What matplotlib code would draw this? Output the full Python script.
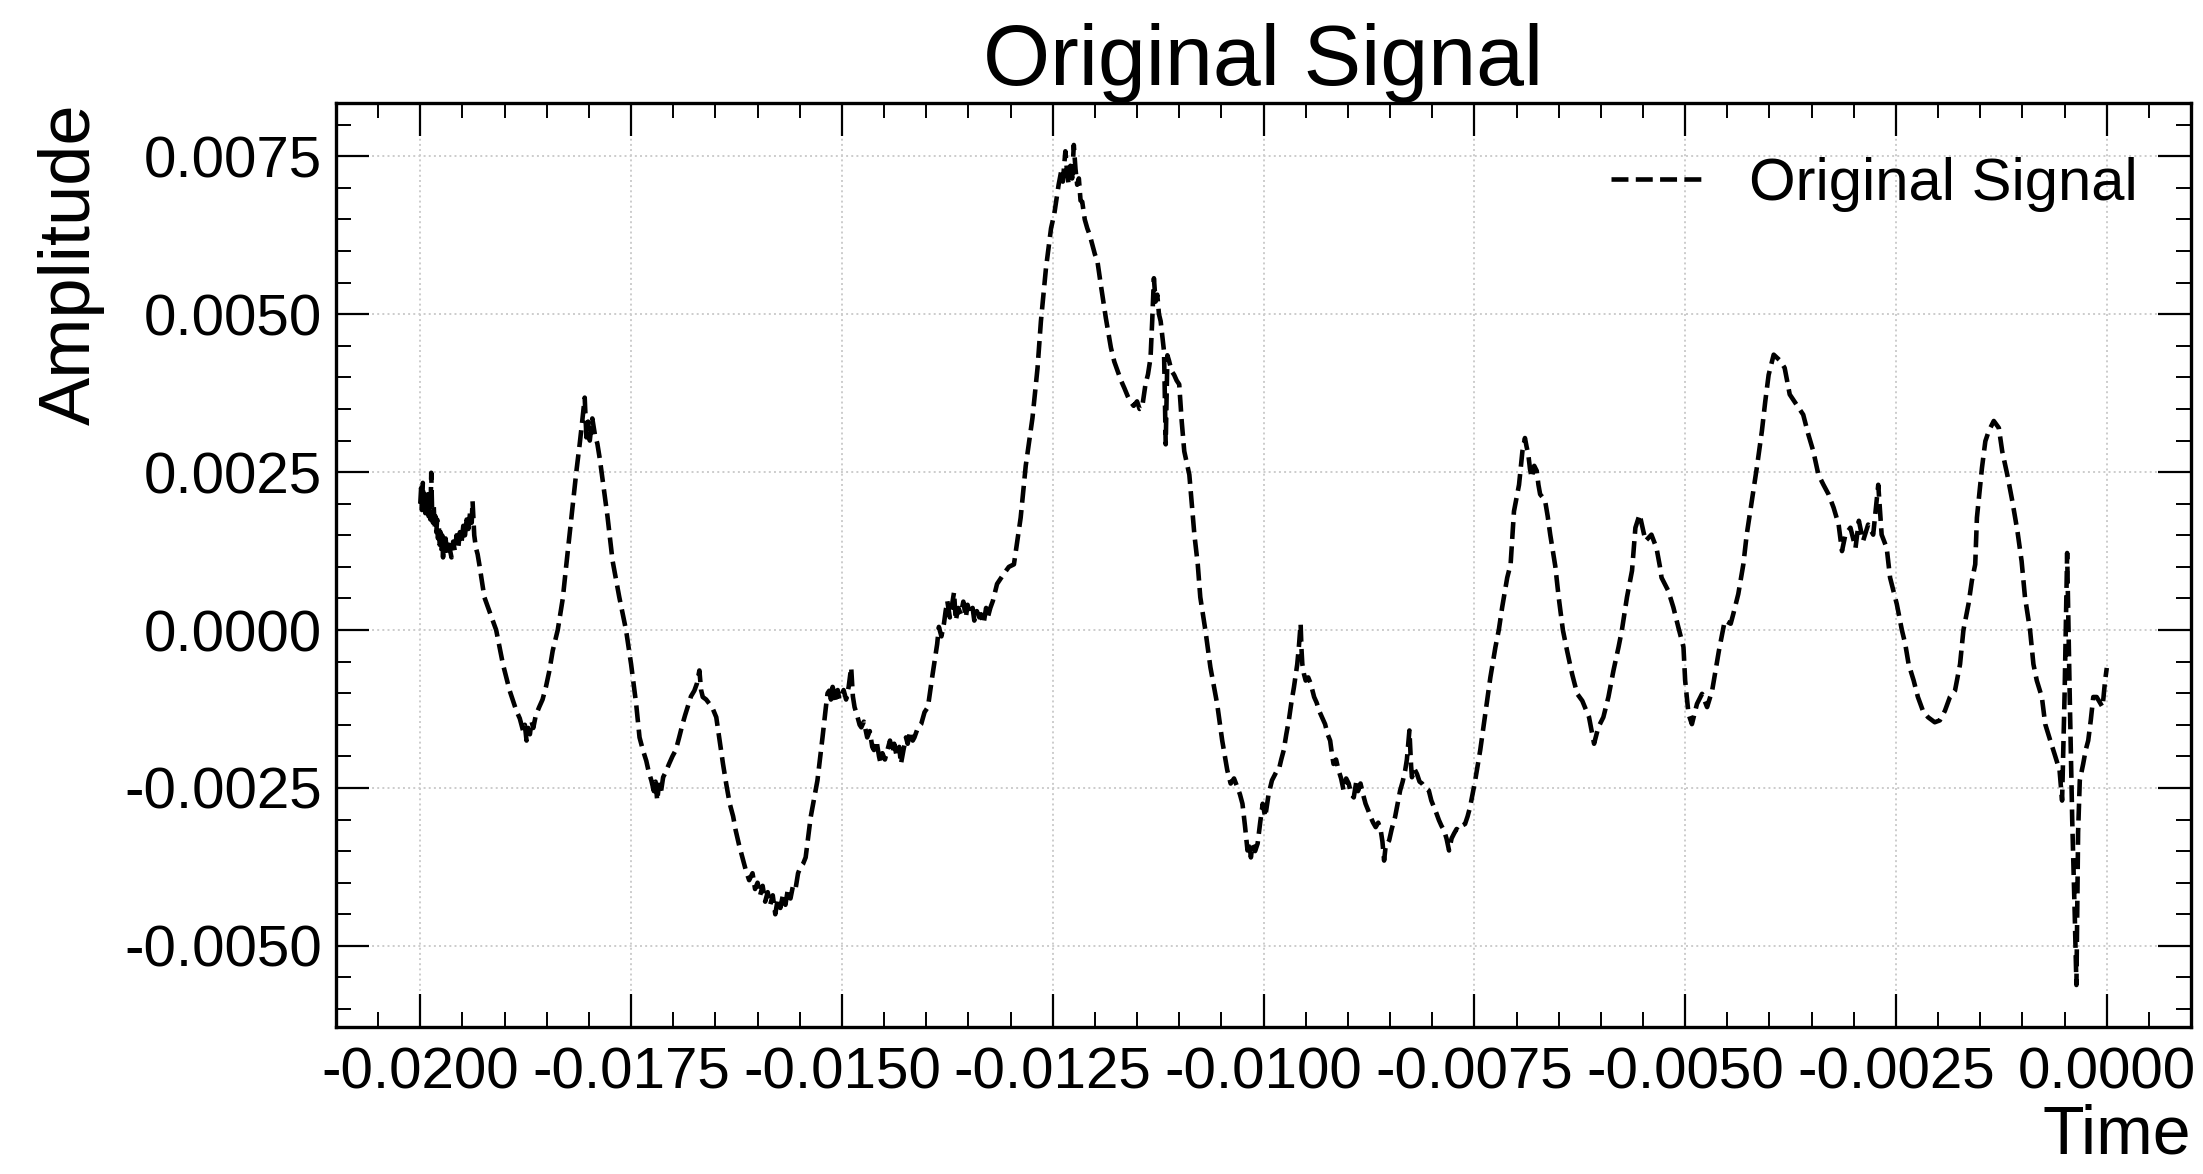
import numpy as np
import matplotlib.pyplot as plt
from matplotlib.ticker import MultipleLocator, AutoMinorLocator, FuncFormatter

# time values in units of 1e-4 s
t_e4 = [
    -200.0, -199.9, -199.8, -199.7, -199.6, -199.5, -199.4, -199.3, -199.2, -199.1,
    -199.0, -198.9, -198.8, -198.7, -198.6, -198.5, -198.4, -198.3, -198.2, -198.1,
    -198.0, -197.9, -197.8, -197.7, -197.6, -197.5, -197.4, -197.3, -197.2, -197.1,
    -197.0, -196.8, -196.6, -196.3, -196.1, -195.9, -195.7, -195.5, -195.3, -195.1,
    -194.9, -194.7, -194.5, -194.3, -194.1, -193.9, -193.8, -193.6, -193.4, -193.2,
    -193.0, -192.4, -191.0, -190.2, -189.4, -188.6, -188.2, -187.8, -187.6, -187.4,
    -187.2, -187.0, -186.8, -186.6, -186.3, -185.9, -185.5, -185.1, -184.7, -184.3,
    -183.7, -183.1, -182.7, -182.1, -181.5, -181.1, -180.8, -180.5, -180.3, -180.1,
    -179.9, -179.6, -179.3, -179.0, -178.7, -178.4, -177.8, -177.2, -176.4, -175.6,
    -175.0, -174.4, -174.0, -173.6, -173.2, -172.9, -172.6, -172.3, -172.1, -171.9,
    -171.7, -171.5, -171.2, -170.9, -170.5, -170.1, -169.7, -169.3, -168.9, -168.6,
    -168.3, -167.9, -167.5, -167.2, -166.9, -166.7, -166.5, -166.1, -165.7, -165.3,
    -164.9, -164.5, -164.1, -163.7, -163.3, -162.9, -162.6, -162.2, -161.8, -161.4,
    -161.0, -160.6, -160.3, -160.0, -159.7, -159.4, -159.1, -158.8, -158.5, -158.2,
    -157.9, -157.6, -157.3, -157.0, -156.7, -156.4, -156.1, -155.8, -155.5, -155.2,
    -154.9, -154.6, -154.3, -153.7, -152.9, -152.3, -151.9, -151.7, -151.5, -151.3,
    -151.1, -150.9, -150.7, -150.5, -150.3, -150.1, -149.8, -149.5, -149.2, -148.9,
    -148.7, -148.5, -148.2, -147.9, -147.7, -147.4, -147.0, -146.7, -146.4, -146.2,
    -145.9, -145.6, -145.4, -145.2, -144.9, -144.6, -144.3, -144.0, -143.8, -143.5,
    -143.2, -143.0, -142.7, -142.4, -142.2, -141.9, -141.6, -141.4, -141.0, -140.6,
    -140.2, -139.8, -139.3, -138.7, -138.5, -138.2, -137.9, -137.7, -137.5, -137.2,
    -137.0, -136.7, -136.5, -136.2, -135.9, -135.6, -135.3, -135.1, -134.8, -134.5,
    -134.3, -134.0, -133.7, -133.5, -133.2, -132.9, -132.7, -132.4, -132.1, -131.6,
    -130.8, -130.2, -129.6, -128.8, -128.2, -127.4, -126.8, -126.4, -125.8, -125.2,
    -124.8, -124.6, -124.3, -124.0, -123.8, -123.5, -123.3, -123.1, -122.9, -122.7,
    -122.5, -122.3, -122.1, -121.9, -121.7, -121.5, -121.2, -120.9, -120.6, -120.3,
    -120.0, -119.7, -119.3, -118.7, -118.1, -117.7, -117.3, -116.9, -116.5, -116.1,
    -115.8, -115.4, -115.0, -114.7, -114.4, -114.2, -114.0, -113.7, -113.4, -113.2,
    -113.0, -112.8, -112.6, -112.4, -112.2, -112.0, -111.8, -111.6, -111.4, -111.2,
    -110.9, -110.6, -110.3, -110.0, -109.7, -109.4, -108.8, -108.2, -107.8, -107.5,
    -106.9, -106.3, -105.5, -104.9, -104.3, -103.9, -103.5, -103.1, -102.8, -102.5,
    -102.2, -101.9, -101.7, -101.5, -101.3, -101.0, -100.7, -100.4, -100.1, -99.8,
    -99.4, -99.0, -98.5, -98.2, -97.9, -97.6, -97.3, -97.0, -96.7, -96.4,
    -96.0, -95.8, -95.6, -95.5, -95.4, -95.2, -95.0, -94.7, -94.4, -94.0,
    -93.7, -93.4, -93.0, -92.7, -92.4, -92.1, -91.9, -91.7, -91.4, -91.1,
    -90.8, -90.5, -90.2, -89.9, -89.6, -89.3, -89.0, -88.8, -88.5, -88.2,
    -87.9, -87.6, -87.3, -87.0, -86.7, -86.4, -86.1, -85.9, -85.7, -85.5,
    -85.3, -85.1, -84.8, -84.4, -84.1, -83.8, -83.5, -83.2, -83.0, -82.7,
    -82.5, -82.4, -82.1, -81.8, -81.5, -81.2, -80.8, -80.4, -80.1, -79.8,
    -79.5, -79.2, -78.9, -78.6, -78.3, -78.0, -77.7, -77.4, -77.1, -76.9,
    -76.5, -76.1, -75.8, -75.5, -74.9, -74.3, -73.7, -73.1, -72.5, -72.1,
    -71.7, -71.1, -70.7, -70.3, -69.7, -69.3, -69.0, -68.8, -68.6, -68.4,
    -68.2, -67.9, -67.6, -67.4, -67.2, -66.9, -66.6, -66.3, -66.0, -65.4,
    -65.0, -64.5, -64.0, -63.4, -62.8, -62.2, -61.4, -60.8, -60.3, -59.7,
    -59.1, -58.5, -57.9, -57.5, -56.9, -56.3, -55.9, -55.4, -54.7, -54.0,
    -53.4, -53.0, -52.8, -52.0, -51.4, -50.8, -50.2, -50.0, -49.6, -49.2,
    -48.6, -48.0, -47.4, -46.8, -46.0, -45.3, -44.6, -44.3, -43.7, -43.1,
    -42.7, -42.1, -41.5, -40.9, -40.5, -40.1, -39.5, -38.7, -38.2, -37.6,
    -36.8, -36.0, -35.4, -34.8, -34.2, -33.6, -33.0, -32.4, -31.8, -31.4,
    -31.0, -30.4, -29.8, -29.4, -28.9, -28.3, -27.7, -27.1, -26.7, -26.1,
    -25.7, -24.9, -24.3, -23.9, -23.5, -22.9, -22.4, -21.8, -21.2, -20.4,
    -19.8, -19.2, -18.6, -18.0, -17.4, -17.0, -16.4, -16.0, -15.6, -15.4,
    -14.8, -14.4, -14.0, -13.4, -12.8, -12.4, -11.8, -11.2, -10.6, -10.1,
    -9.7, -9.1, -8.7, -8.3, -7.7, -7.3, -6.7, -6.2, -5.6, -5.3,
    -5.0, -4.7, -4.4, -4.1, -3.8, -3.6, -3.4, -3.2, -2.8, -2.5,
    -2.2, -1.9, -1.6, -1.2, -0.8, -0.5, -0.2, 0.0,
]

# amplitude values in units of 1e-4
amp_e4 = [
    20.0, 22.5, 19.0, 23.3, 20.5, 21.5, 18.5, 21.0, 19.0, 21.5,
    18.0, 20.0, 17.5, 24.9, 19.0, 17.0, 19.5, 16.0, 18.0, 15.5,
    17.5, 14.5, 16.5, 13.5, 15.5, 12.5, 15.0, 11.5, 14.0, 12.5,
    14.5, 12.0, 13.5, 11.5, 14.0, 12.5, 15.0, 13.0, 15.5, 14.0,
    16.5, 15.0, 17.5, 16.0, 18.5, 17.0, 20.4, 15.0, 13.0, 12.0,
    10.4, 5.2, 0.0, -5.4, -9.6, -12.8, -14.0, -16.0, -15.0, -17.5,
    -15.5, -16.5, -14.5, -15.5, -13.5, -12.2, -11.0, -9.0, -6.5, -3.3,
    0.0, 5.0, 10.1, 17.5, 25.0, 29.4, 33.0, 36.8, 30.5, 33.0,
    30.0, 33.5, 31.0, 29.5, 27.0, 24.0, 18.0, 11.0, 5.2, 0.0,
    -5.4, -11.7, -17.0, -19.0, -20.7, -22.5, -23.8, -25.5, -24.0, -27.0,
    -24.5, -26.0, -23.3, -22.5, -21.2, -20.0, -19.0, -17.0, -14.9, -13.5,
    -12.2, -10.5, -9.6, -8.5, -6.4, -9.5, -10.6, -11.0, -11.7, -12.5,
    -13.8, -17.5, -21.2, -24.5, -27.5, -29.5, -31.7, -34.0, -36.0, -38.0,
    -39.6, -38.5, -41.0, -40.0, -42.0, -40.5, -43.0, -41.5, -43.5, -42.0,
    -45.0, -42.5, -44.0, -42.0, -43.5, -41.0, -42.5, -40.5, -41.0, -38.5,
    -37.5, -37.0, -36.0, -29.6, -23.8, -17.0, -12.2, -10.0, -9.6, -11.0,
    -9.0, -10.1, -11.5, -9.5, -11.0, -10.6, -9.5, -11.0, -9.0, -5.9,
    -10.5, -12.2, -13.5, -15.0, -15.4, -14.5, -17.0, -16.0, -18.5, -19.0,
    -17.5, -20.0, -21.2, -19.5, -20.5, -19.0, -17.5, -19.5, -18.0, -20.0,
    -18.5, -21.2, -19.0, -17.0, -18.0, -16.0, -17.5, -17.0, -15.5, -14.9,
    -13.0, -12.2, -7.5, -2.2, 0.5, -1.0, 1.0, 3.0, 4.6, 2.0,
    3.5, 6.0, 1.5, 3.5, 2.5, 4.5, 2.0, 4.0, 2.5, 3.5,
    1.5, 3.0, 2.0, 2.5, 1.0, 3.5, 2.0, 3.5, 4.6, 7.3,
    8.9, 10.0, 10.4, 17.8, 26.0, 33.6, 41.5, 48.9, 57.3, 63.6,
    66.0, 67.8, 70.5, 72.6, 71.0, 75.8, 72.5, 70.5, 73.5, 71.5,
    76.8, 73.0, 70.5, 71.5, 68.0, 67.8, 65.0, 63.6, 62.5, 61.0,
    59.5, 58.4, 54.7, 49.4, 44.7, 42.5, 41.0, 39.5, 38.3, 37.0,
    36.2, 35.5, 36.2, 35.0, 35.2, 37.0, 38.9, 40.5, 43.1, 49.0,
    55.7, 52.0, 53.1, 50.0, 48.9, 46.5, 44.1, 29.4, 43.5, 42.6,
    41.0, 40.4, 39.5, 38.9, 33.0, 28.3, 24.6, 15.1, 10.4, 5.2,
    0.0, -5.9, -11.7, -17.5, -22.2, -24.3, -23.5, -24.9, -26.0, -27.5,
    -31.0, -34.9, -33.5, -36.0, -34.0, -35.0, -33.8, -30.5, -27.5, -29.6,
    -26.0, -23.8, -22.5, -22.2, -20.5, -19.0, -16.5, -14.3, -11.5, -9.1,
    -5.4, -2.5, 1.0, -3.0, -5.4, -7.0, -8.0, -7.5, -8.5, -10.6,
    -11.5, -12.8, -14.0, -14.9, -16.5, -17.5, -19.5, -21.2, -20.5, -22.2,
    -23.5, -25.4, -23.5, -24.3, -26.0, -26.5, -24.0, -25.5, -24.3, -26.0,
    -27.5, -28.5, -29.6, -30.5, -31.2, -30.5, -31.7, -33.5, -36.5, -34.0,
    -33.8, -33.3, -31.5, -29.6, -27.5, -25.4, -24.0, -22.2, -20.5, -15.9,
    -21.5, -23.3, -22.0, -22.8, -24.0, -24.3, -25.0, -25.4, -27.0, -28.0,
    -29.0, -30.1, -31.0, -31.7, -33.0, -34.9, -33.0, -32.2, -31.5, -31.7,
    -31.0, -30.7, -29.5, -28.0, -23.8, -19.0, -13.3, -7.5, -2.7, 0.0,
    3.6, 8.3, 10.4, 18.8, 23.0, 28.3, 30.4, 29.0, 27.8, 25.5,
    24.1, 26.0, 25.2, 23.0, 21.5, 21.0, 20.4, 18.0, 15.1, 10.1,
    5.2, 0.0, -3.3, -7.0, -10.1, -11.2, -13.8, -18.0, -15.4, -13.8,
    -10.6, -6.4, -2.7, 0.0, 5.2, 9.4, 16.2, 18.3, 14.1, 15.1,
    13.0, 10.1, 8.3, 6.2, 3.6, 0.4, -2.7, -8.0, -13.3, -14.9,
    -11.7, -10.1, -12.2, -9.6, -3.3, 1.5, 1.0, 2.5, 5.7, 10.4,
    15.1, 20.4, 25.7, 31.5, 36.2, 40.4, 43.6, 42.6, 41.5, 37.3,
    35.7, 34.1, 31.0, 28.3, 24.6, 23.0, 21.5, 19.4, 16.7, 12.5,
    15.1, 16.2, 13.0, 17.3, 14.1, 16.7, 15.1, 23.0, 15.1, 13.0,
    8.3, 4.1, 0.0, -2.2, -5.4, -8.0, -10.6, -12.8, -13.8, -14.6,
    -14.3, -12.8, -10.6, -9.6, -5.4, 0.0, 4.1, 7.8, 10.4, 17.8,
    25.7, 29.9, 31.5, 33.1, 32.0, 28.3, 24.6, 20.4, 15.7, 10.9,
    5.2, 0.0, -5.4, -8.0, -10.6, -14.9, -17.5, -19.6, -22.2, -27.0,
    -10.0, 12.2, -10.0, -30.0, -45.0, -56.2, -32.0, -23.8, -21.2, -19.0,
    -17.5, -14.3, -10.6, -10.6, -11.5, -12.2, -8.0, -6.0,
]

t = np.array(t_e4) * 1e-4
amp = np.array(amp_e4) * 1e-4

plt.rcParams['font.family'] = ['Liberation Sans', 'DejaVu Sans']
plt.rcParams['axes.unicode_minus'] = False

fig = plt.figure(figsize=(22.03, 11.74), dpi=100)
ax = fig.add_axes([0.1525, 0.1252, 0.8421, 0.7871])

ax.plot(t, amp, linestyle='--', color='black', linewidth=3.3, label='Original Signal')

ax.set_title('Original Signal', fontsize=62, pad=8)
ax.set_xlabel('Time', fontsize=49, loc='right', labelpad=2)
ax.set_ylabel('Amplitude', fontsize=52, loc='top', labelpad=14)

ax.xaxis.set_major_locator(MultipleLocator(0.0025))
ax.yaxis.set_major_locator(MultipleLocator(0.0025))
ax.xaxis.set_minor_locator(AutoMinorLocator(5))
ax.yaxis.set_minor_locator(AutoMinorLocator(5))

def fmt(v, pos):
    if abs(v) < 1e-12:
        v = 0.0
    return f"{v:.4f}"

ax.xaxis.set_major_formatter(FuncFormatter(fmt))
ax.yaxis.set_major_formatter(FuncFormatter(fmt))

ax.tick_params(which='both', direction='in', top=True, right=True, labelsize=42)
ax.tick_params(which='major', length=24, width=1.6)
ax.tick_params(which='minor', length=11, width=1.4)
ax.tick_params(axis='x', which='major', pad=14)
ax.tick_params(axis='y', which='major', pad=10)

for sp in ax.spines.values():
    sp.set_linewidth(2.4)

ax.grid(True, which='major', linestyle=':', color='0.8', linewidth=1.4)
ax.set_axisbelow(True)

ax.legend(loc='upper right', frameon=False, fontsize=43, handlelength=1.5)

fig.savefig('out.png', dpi=100)
